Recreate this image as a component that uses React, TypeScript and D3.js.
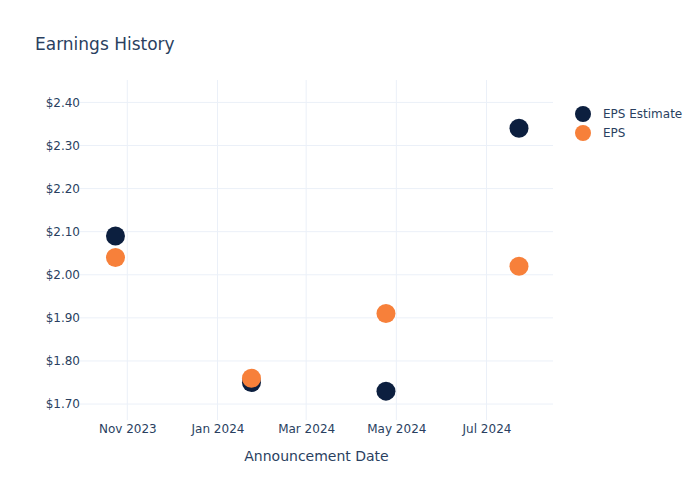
import React, { useEffect, useRef } from "react"
import * as d3 from "d3"

const announceDates = ["2023-10-24", "2024-01-24", "2024-04-24", "2024-07-23"]
const epsEstimate = [2.09, 1.75, 1.73, 2.34]
const epsActual = [2.04, 1.76, 1.91, 2.02]
const yTicks = [1.7, 1.8, 1.9, 2.0, 2.1, 2.2, 2.3, 2.4]
const seriesNames = ["EPS Estimate", "EPS"]
const seriesColors = ["#0c1f3f", "#f7803a"]

const parse = d3.timeParse("%Y-%m-%d")

const App = () => {
  const ref = useRef<SVGSVGElement | null>(null)

  useEffect(() => {
    const svg = d3.select(ref.current)
    svg.selectAll("*").remove()

    const width = 700
    const height = 500
    const margin = { top: 80, right: 147, bottom: 80, left: 80 }
    const font = "'DejaVu Sans', Verdana, sans-serif"
    const textColor = "#2a3f5f"
    const gridColor = "#ebf0f8"

    svg.append("rect").attr("width", width).attr("height", height).attr("fill", "#fff")

    const x = d3
      .scaleTime()
      .domain([parse("2023-09-30")!, parse("2024-08-15")!])
      .range([margin.left, width - margin.right])

    const y = d3
      .scaleLinear()
      .domain([1.663, 2.452])
      .range([height - margin.bottom, margin.top])

    const xTicks = d3.timeMonth.every(2)!.range(parse("2023-11-01")!, parse("2024-08-02")!)

    // grid
    const grid = svg.append("g")
    grid
      .selectAll("line.v")
      .data(xTicks)
      .join("line")
      .attr("x1", (d) => x(d))
      .attr("x2", (d) => x(d))
      .attr("y1", margin.top)
      .attr("y2", height - margin.bottom)
      .attr("stroke", gridColor)
    grid
      .selectAll("line.h")
      .data(yTicks)
      .join("line")
      .attr("x1", margin.left)
      .attr("x2", width - margin.right)
      .attr("y1", (d) => y(d))
      .attr("y2", (d) => y(d))
      .attr("stroke", gridColor)

    // axes
    const xAxis = svg
      .append("g")
      .attr("transform", `translate(0,${height - margin.bottom})`)
      .call(
        d3
          .axisBottom(x)
          .tickValues(xTicks)
          .tickFormat((d) => d3.timeFormat("%b %Y")(d as Date))
          .tickSize(0)
          .tickPadding(4)
      )
    xAxis.select(".domain").remove()
    xAxis.selectAll("text").attr("font-family", font).attr("font-size", 12).attr("fill", textColor)

    const yAxis = svg
      .append("g")
      .attr("transform", `translate(${margin.left},0)`)
      .call(d3.axisLeft(y).tickValues(yTicks).tickFormat(d3.format("$.2f")).tickSize(0).tickPadding(0))
    yAxis.select(".domain").remove()
    yAxis.selectAll("text").attr("font-family", font).attr("font-size", 12).attr("fill", textColor)

    // points
    const series = [epsEstimate, epsActual]
    series.forEach((vals, i) => {
      svg
        .append("g")
        .selectAll("circle")
        .data(vals)
        .join("circle")
        .attr("cx", (d, j) => x(parse(announceDates[j])!))
        .attr("cy", (d) => y(d))
        .attr("r", 9.5)
        .attr("fill", seriesColors[i])
    })

    // title
    svg
      .append("text")
      .attr("x", 35)
      .attr("y", 50)
      .attr("font-family", font)
      .attr("font-size", 17)
      .attr("fill", textColor)
      .text("Earnings History")

    svg
      .append("text")
      .attr("x", (margin.left + width - margin.right) / 2)
      .attr("y", 461)
      .attr("text-anchor", "middle")
      .attr("font-family", font)
      .attr("font-size", 14)
      .attr("fill", textColor)
      .text("Announcement Date")

    // legend
    const legend = svg.append("g")
    seriesNames.forEach((name, i) => {
      legend
        .append("circle")
        .attr("cx", 583)
        .attr("cy", 114 + i * 19)
        .attr("r", 8)
        .attr("fill", seriesColors[i])
      legend
        .append("text")
        .attr("x", 603)
        .attr("y", 118 + i * 19)
        .attr("font-family", font)
        .attr("font-size", 12)
        .attr("fill", textColor)
        .text(name)
    })
  }, [])

  return <svg ref={ref} width={700} height={500} style={{ position: "absolute", left: 0, top: 0 }}></svg>
}

export default App
